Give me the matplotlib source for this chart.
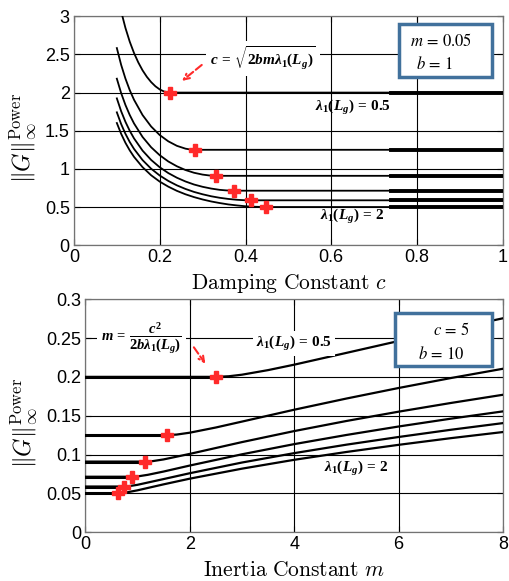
import numpy as np
import matplotlib
matplotlib.use('Agg')
import matplotlib.pyplot as plt
from matplotlib.patches import Rectangle

plt.rcParams['font.family'] = ['Liberation Sans', 'DejaVu Sans']
plt.rcParams['mathtext.fontset'] = 'cm'
# custom math set used for the bold annotations
plt.rcParams['mathtext.rm'] = 'Liberation Serif:bold'
plt.rcParams['mathtext.it'] = 'Liberation Serif:italic:bold'
plt.rcParams['mathtext.bf'] = 'Liberation Serif:bold'

# lambda_1(L_g) values of the six curves
lam = [0.5, 0.8, 1.1, 1.4, 1.7, 2.0]

# top panel: norm vs damping c (m = 0.05, b = 1)
c_star = [0.224, 0.283, 0.332, 0.374, 0.412, 0.447]
g_star_top = [2.0, 1.25, 0.909, 0.714, 0.588, 0.5]
top_c = [
    [0.113, 0.12, 0.13, 0.14, 0.15, 0.16, 0.17, 0.18, 0.19, 0.20, 0.21, 0.224, 1.0],
    [0.10, 0.11, 0.12, 0.13, 0.14, 0.16, 0.18, 0.20, 0.22, 0.24, 0.26, 0.27, 0.283, 1.0],
    [0.10, 0.11, 0.12, 0.13, 0.14, 0.16, 0.18, 0.20, 0.22, 0.24, 0.26, 0.28, 0.30, 0.315, 0.332, 1.0],
    [0.10, 0.11, 0.12, 0.13, 0.14, 0.16, 0.18, 0.20, 0.22, 0.24, 0.26, 0.28, 0.30, 0.32, 0.34, 0.355, 0.374, 1.0],
    [0.10, 0.11, 0.12, 0.13, 0.14, 0.16, 0.18, 0.20, 0.22, 0.24, 0.26, 0.28, 0.30, 0.32, 0.34, 0.36, 0.38, 0.395, 0.412, 1.0],
    [0.10, 0.11, 0.12, 0.13, 0.14, 0.16, 0.18, 0.20, 0.22, 0.24, 0.26, 0.28, 0.30, 0.32, 0.34, 0.36, 0.38, 0.40, 0.42, 0.447, 1.0],
]
top_g = [
    [3.0, 2.848, 2.668, 2.519, 2.395, 2.291, 2.206, 2.137, 2.082, 2.041, 2.014, 2.0, 2.0],
    [2.583, 2.364, 2.184, 2.033, 1.906, 1.705, 1.555, 1.443, 1.361, 1.302, 1.265, 1.255, 1.25, 1.25],
    [2.182, 1.994, 1.838, 1.707, 1.596, 1.418, 1.283, 1.179, 1.097, 1.034, 0.985, 0.949, 0.925, 0.914, 0.909, 0.909],
    [1.924, 1.756, 1.617, 1.500, 1.400, 1.239, 1.117, 1.021, 0.945, 0.884, 0.835, 0.795, 0.765, 0.742, 0.725, 0.718, 0.714, 0.714],
    [1.741, 1.588, 1.460, 1.353, 1.262, 1.115, 1.002, 0.913, 0.842, 0.784, 0.737, 0.698, 0.667, 0.641, 0.621, 0.606, 0.595, 0.590, 0.588, 0.588],
    [1.601, 1.460, 1.342, 1.243, 1.158, 1.022, 0.916, 0.833, 0.767, 0.712, 0.667, 0.630, 0.599, 0.573, 0.552, 0.534, 0.521, 0.510, 0.504, 0.5, 0.5],
]

# bottom panel: norm vs inertia m (c = 5, b = 10)
m_star = [2.5, 1.56, 1.14, 0.89, 0.74, 0.63]
g_star_bot = [0.2, 0.125, 0.0909, 0.0714, 0.0588, 0.05]
bot_m = [
    [0, 2.5, 2.75, 3, 3.5, 4, 5, 6, 7, 8],
    [0, 1.56, 1.75, 2, 2.5, 3, 4, 5, 6, 7, 8],
    [0, 1.14, 1.3, 1.5, 2, 3, 4, 5, 6, 7, 8],
    [0, 0.89, 1.0, 1.2, 1.5, 2, 3, 4, 5, 6, 7, 8],
    [0, 0.74, 0.85, 1.0, 1.5, 2, 3, 4, 5, 6, 7, 8],
    [0, 0.63, 0.75, 1.0, 1.5, 2, 3, 4, 5, 6, 7, 8],
]
bot_g = [
    [0.2, 0.2, 0.2008, 0.2028, 0.2087, 0.2157, 0.2309, 0.2462, 0.2611, 0.2755],
    [0.125, 0.125, 0.1257, 0.1281, 0.1348, 0.1424, 0.1577, 0.1721, 0.1857, 0.1985, 0.2105],
    [0.0909, 0.0909, 0.0916, 0.0937, 0.1008, 0.1160, 0.1302, 0.1432, 0.1552, 0.1664, 0.1770],
    [0.0714, 0.0714, 0.0718, 0.0739, 0.0781, 0.0858, 0.1003, 0.1134, 0.1252, 0.1361, 0.1462, 0.1556],
    [0.0588, 0.0588, 0.0594, 0.0610, 0.0684, 0.0759, 0.0897, 0.1018, 0.1127, 0.1226, 0.1319, 0.1405],
    [0.05, 0.05, 0.0507, 0.0539, 0.0616, 0.0689, 0.0818, 0.0932, 0.1033, 0.1125, 0.1211, 0.1290],
]

top_xticks = [0, 0.2, 0.4, 0.6, 0.8, 1]
top_yticks = [0, 0.5, 1, 1.5, 2, 2.5, 3]
bot_xticks = [0, 2, 4, 6, 8]
bot_yticks = [0, 0.05, 0.1, 0.15, 0.2, 0.25, 0.3]

fig = plt.figure(figsize=(5.1, 5.81), dpi=100)
ax1 = fig.add_axes([0.145, 0.578, 0.841, 0.394])
ax2 = fig.add_axes([0.167, 0.084, 0.8196, 0.401])

box_col = '#41719C'
red = '#FF2A2A'

def style(ax):
    ax.grid(True, color='k', lw=0.8)
    ax.set_axisbelow(True)
    ax.tick_params(direction='in', top=True, right=True, length=4, labelsize=13, pad=3)
    for s in ax.spines.values():
        s.set_color('0.45')
        s.set_linewidth(0.9)

# ---- top
for i in range(len(lam)):
    ax1.plot(top_c[i], top_g[i], color='k', lw=1.3, zorder=3)
    ax1.plot([0.74, 1.0], [g_star_top[i], g_star_top[i]], color='k', lw=2.8, zorder=3)
ax1.plot(c_star, g_star_top, 'P', color=red, ms=8, mec=red, zorder=5)
ax1.set_xlim(0, 1)
ax1.set_ylim(0, 3)
ax1.set_xticks(top_xticks)
ax1.set_xticklabels(['0', '0.2', '0.4', '0.6', '0.8', '1'])
ax1.set_yticks(top_yticks)
ax1.set_yticklabels(['0', '0.5', '1', '1.5', '2', '2.5', '3'])
style(ax1)
ax1.set_xlabel(r'$\mathrm{Damping\ Constant}\ c$', fontsize=15.5)
ax1.xaxis.set_label_coords(0.5, -0.115)
ax1.set_ylabel(r'$\|G\|_\infty^{\mathrm{Power}}$', fontsize=17)
ax1.yaxis.set_label_coords(-0.083, 0.47)

ax1.text(0.44, 2.45, r'$c\,=\,\sqrt{2bm\lambda_1(L_g)}$', math_fontfamily='custom',
         fontsize=11, ha='center', va='center', zorder=6,
         bbox=dict(fc='white', ec='none', pad=3))
ax1.annotate('', xy=(0.247, 2.13), xytext=(0.303, 2.385),
             arrowprops=dict(arrowstyle='->', color=red, ls='--', lw=1.5), zorder=6)
ax1.text(0.65, 1.81, r'$\lambda_1(L_g)\,=\,0.5$', math_fontfamily='custom',
         fontsize=11, ha='center', va='center', zorder=6)
ax1.text(0.648, 0.37, r'$\lambda_1(L_g)\,=\,2$', math_fontfamily='custom',
         fontsize=11, ha='center', va='center', zorder=6)
ax1.add_patch(Rectangle((0.758, 0.734), 0.216, 0.231, transform=ax1.transAxes,
                        fc='white', ec=box_col, lw=2.5, zorder=7))
ax1.text(0.856, 0.895, r'$m\,=\,0.05$', transform=ax1.transAxes, math_fontfamily='stix',
         fontsize=12, ha='center', va='center', zorder=8)
ax1.text(0.841, 0.795, r'$b\,=\,1$', transform=ax1.transAxes, math_fontfamily='stix',
         fontsize=12, ha='center', va='center', zorder=8)

# ---- bottom
for i in range(len(lam)):
    ax2.plot(bot_m[i], bot_g[i], color='k', lw=1.6, zorder=3)
    ax2.plot(bot_m[i][:2], bot_g[i][:2], color='k', lw=2.2, zorder=3)
ax2.plot(m_star, g_star_bot, 'P', color=red, ms=8, mec=red, zorder=5)
ax2.set_xlim(0, 8)
ax2.set_ylim(0, 0.3)
ax2.set_xticks(bot_xticks)
ax2.set_yticks(bot_yticks)
ax2.set_yticklabels(['0', '0.05', '0.1', '0.15', '0.2', '0.25', '0.3'])
style(ax2)
ax2.set_xlabel(r'$\mathrm{Inertia\ Constant}\ m$', fontsize=15.5)
ax2.xaxis.set_label_coords(0.5, -0.12)
ax2.set_ylabel(r'$\|G\|_\infty^{\mathrm{Power}}$', fontsize=17)
ax2.yaxis.set_label_coords(-0.11, 0.47)

ax2.text(1.08, 0.25, r'$m\,=\,\dfrac{c^2}{2b\lambda_1(L_g)}$', math_fontfamily='custom',
         fontsize=10.5, ha='center', va='center', zorder=6,
         bbox=dict(fc='white', ec='none', pad=3))
ax2.annotate('', xy=(2.33, 0.214), xytext=(2.05, 0.241),
             arrowprops=dict(arrowstyle='->', color=red, ls='--', lw=1.5), zorder=6)
ax2.text(4.0, 0.243, r'$\lambda_1(L_g)\,=\,0.5$', math_fontfamily='custom',
         fontsize=11, ha='center', va='center', zorder=6,
         bbox=dict(fc='white', ec='none', pad=2))
ax2.text(5.19, 0.0824, r'$\lambda_1(L_g)\,=\,2$', math_fontfamily='custom',
         fontsize=11, ha='center', va='center', zorder=6)
ax2.add_patch(Rectangle((0.742, 0.712), 0.232, 0.228, transform=ax2.transAxes,
                        fc='white', ec=box_col, lw=2.5, zorder=7))
ax2.text(0.876, 0.871, r'$c\,=\,5$', transform=ax2.transAxes, math_fontfamily='stix',
         fontsize=12, ha='center', va='center', zorder=8)
ax2.text(0.851, 0.768, r'$b\,=\,10$', transform=ax2.transAxes, math_fontfamily='stix',
         fontsize=12, ha='center', va='center', zorder=8)

fig.savefig('out.png', dpi=100)
